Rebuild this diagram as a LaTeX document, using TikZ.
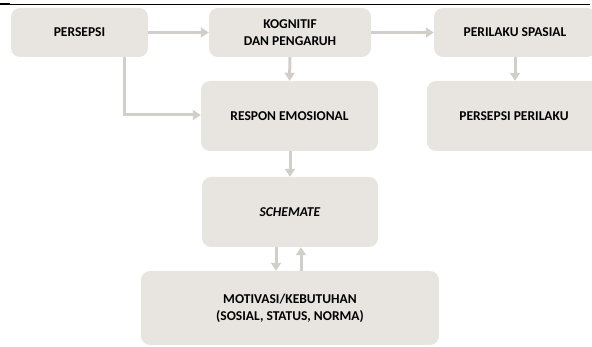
\documentclass[tikz,border=0pt]{standalone}
\usepackage{fontspec}
\setmainfont{Carlito}
\usetikzlibrary{arrows.meta}
\definecolor{boxfill}{HTML}{E8E5E1}
\definecolor{arrowc}{HTML}{D2CECA}
\tikzset{
  card/.style={fill=boxfill, draw=none, rounded corners=9pt, align=center,
    font=\fontsize{13.5}{17}\selectfont\bfseries, text=black, inner sep=0pt},
  flow/.style={draw=arrowc, line width=3pt,
    -{Triangle[length=8pt,width=10pt]}},
}
\begin{document}
\begin{tikzpicture}[x=1pt,y=-1pt]
\useasboundingbox (0,0) rectangle (592,347);
\begin{scope}
\clip (0,0) rectangle (592,347);
\node[card, minimum width=137pt, minimum height=49pt] (p) at (79.5,32.5) {PERSEPSI};
\node[card, minimum width=162pt, minimum height=49pt] (k) at (290,32.5) {KOGNITIF\\DAN PENGARUH};
\node[card, minimum width=162pt, minimum height=49pt] (ps) at (515,32.5) {PERILAKU SPASIAL};
\node[card, minimum width=177pt, minimum height=70pt] (r) at (289.5,116) {RESPON EMOSIONAL};
\node[card, minimum width=174pt, minimum height=70pt] (pp) at (514,116) {PERSEPSI PERILAKU};
\node[card, minimum width=176pt, minimum height=70pt] (s) at (290,212) {\textit{SCHEMATE}};
\node[card, minimum width=298pt, minimum height=74pt] (m) at (290,308) {MOTIVASI/KEBUTUHAN\\(SOSIAL, STATUS, NORMA)};
\end{scope}
\draw[line width=2pt] (0,4) -- (10,4);
\draw[line width=0.9pt] (10,4) -- (590,4);
\draw[flow] (p.east) -- (k.west);
\draw[flow] (k.east) -- (ps.west);
\draw[flow] (k.south) -- (r.north);
\draw[flow] (ps.south) -- (ps.south |- pp.north);
\draw[flow] ([xshift=44.5pt]p.south) |- ([yshift=1pt]r.west);
\draw[flow] ([xshift=0.5pt]r.south) -- (s.north);
\draw[flow] ([xshift=-14pt]s.south) -- ([xshift=-14pt]s.south |- m.north);
\draw[flow] ([xshift=11pt]m.north) -- ([xshift=11pt]m.north |- s.south);
\end{tikzpicture}
\end{document}
